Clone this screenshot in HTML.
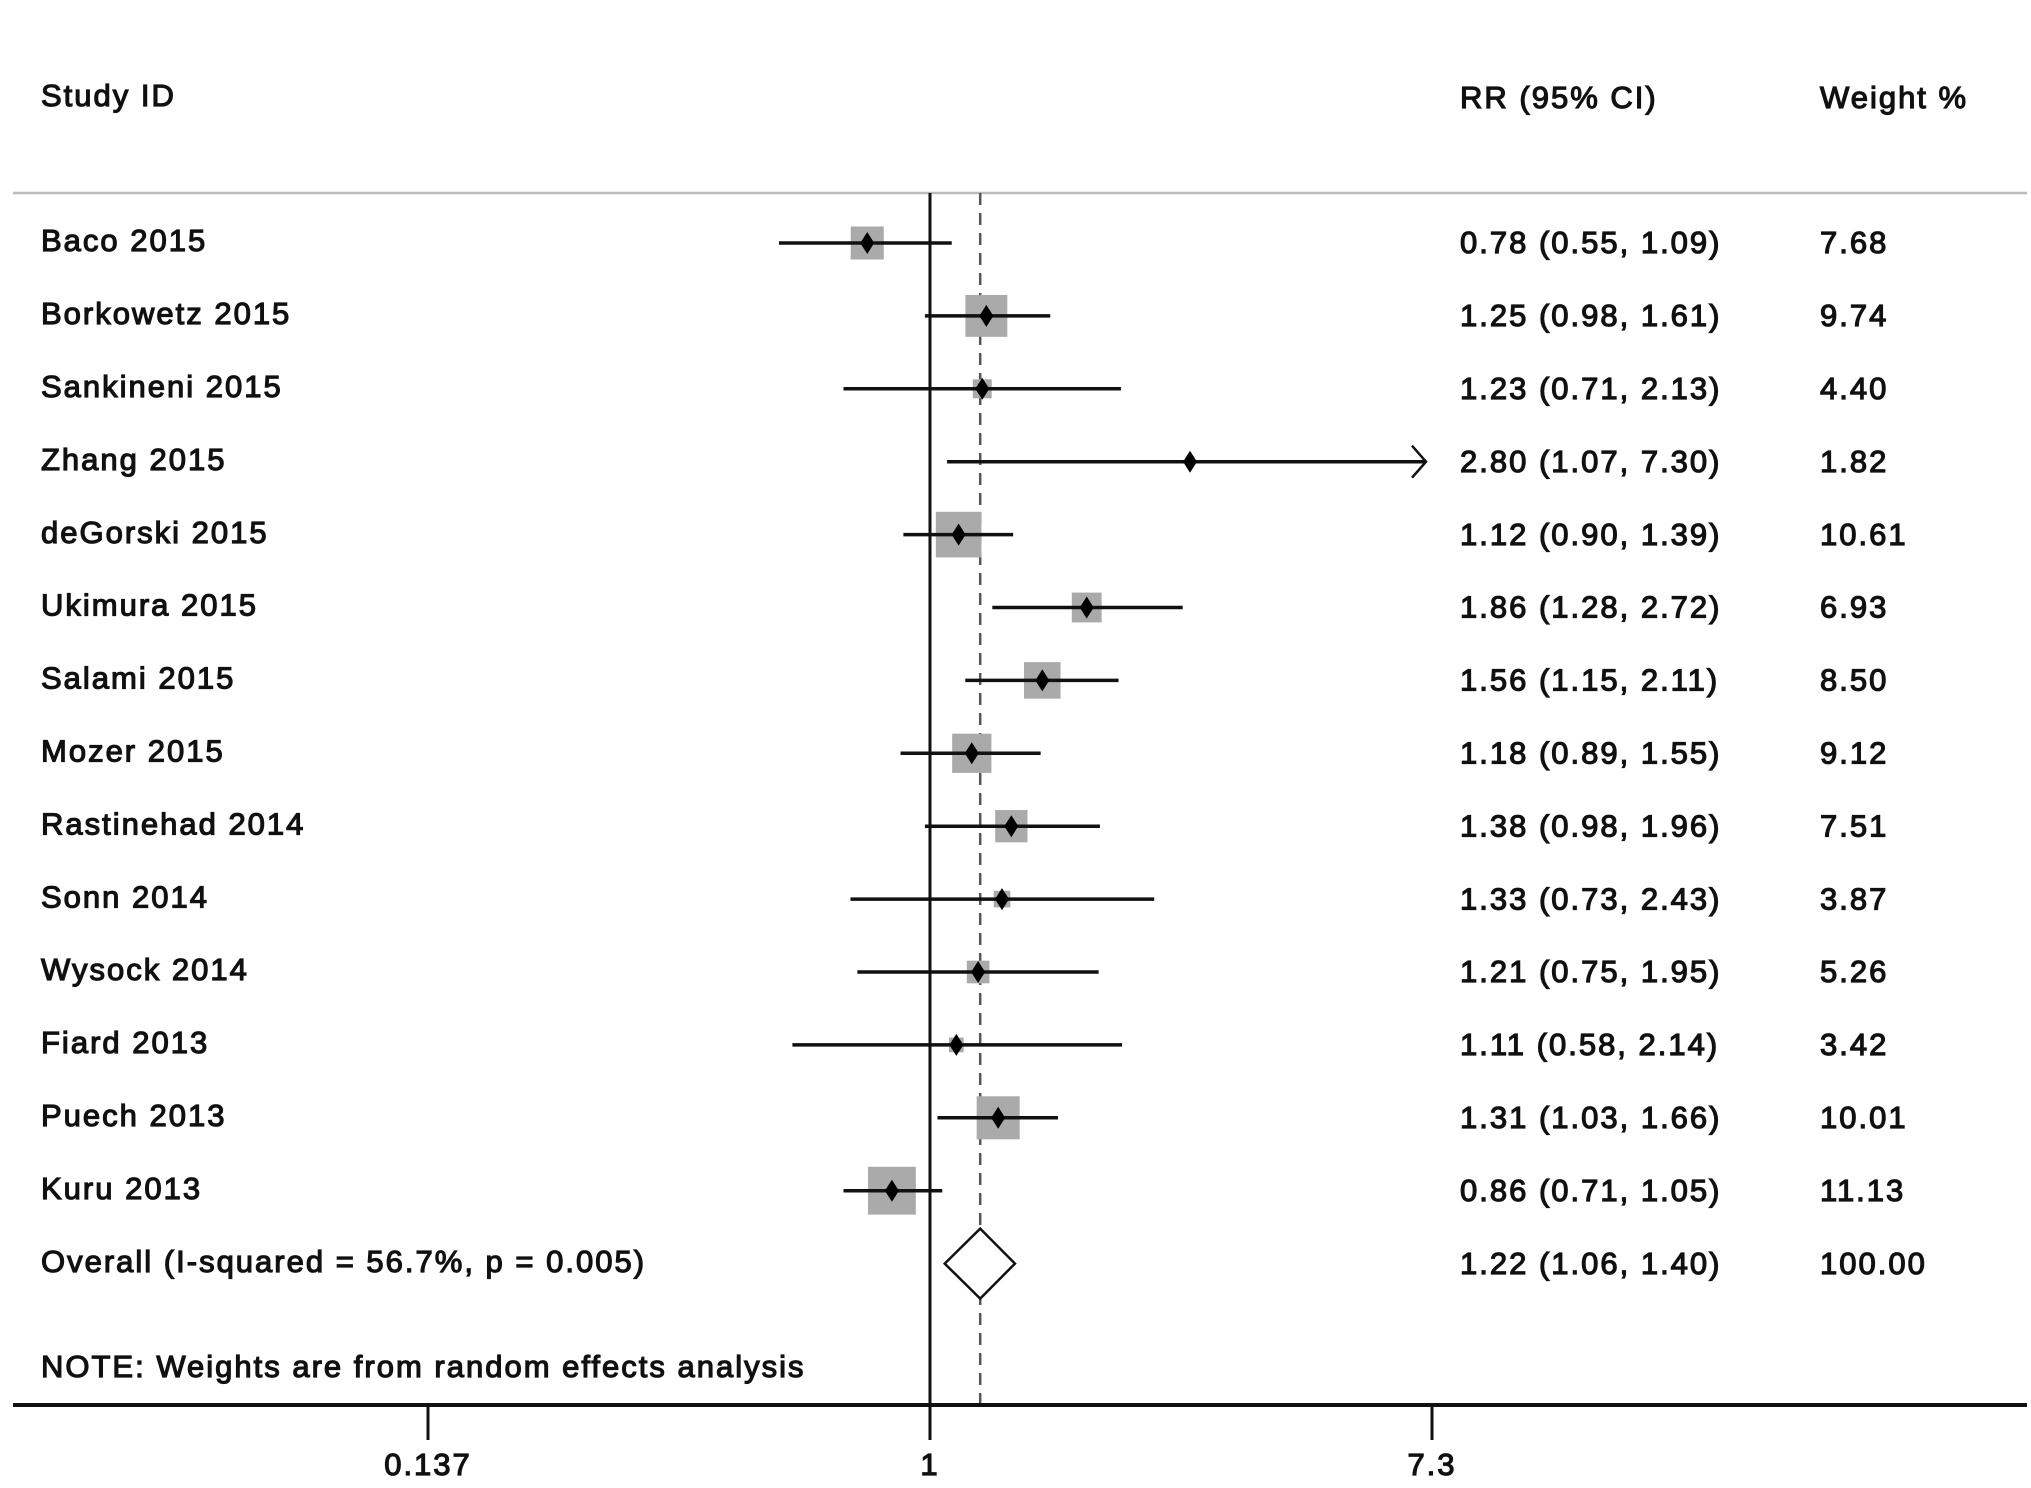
<!DOCTYPE html>
<html><head><meta charset="utf-8">
<style>
html,body{margin:0;padding:0;background:#fff;}
svg{display:block;}
text{font-family:"Liberation Sans",Arial,sans-serif;font-size:31px;fill:#111;letter-spacing:2px;stroke:#111;stroke-width:1.2px;}
</style></head>
<body>
<svg id="chart" width="2031" height="1488" viewBox="0 0 2031 1488" xmlns="http://www.w3.org/2000/svg">
</svg>
<script>
const studies=["Baco 2015","Borkowetz 2015","Sankineni 2015","Zhang 2015","deGorski 2015","Ukimura 2015","Salami 2015","Mozer 2015","Rastinehad 2014","Sonn 2014","Wysock 2014","Fiard 2013","Puech 2013","Kuru 2013"];
const rr=[0.78,1.25,1.23,2.80,1.12,1.86,1.56,1.18,1.38,1.33,1.21,1.11,1.31,0.86];
const lo=[0.55,0.98,0.71,1.07,0.90,1.28,1.15,0.89,0.98,0.73,0.75,0.58,1.03,0.71];
const hi=[1.09,1.61,2.13,7.30,1.39,2.72,2.11,1.55,1.96,2.43,1.95,2.14,1.66,1.05];
const weights=[7.68,9.74,4.40,1.82,10.61,6.93,8.50,9.12,7.51,3.87,5.26,3.42,10.01,11.13];
const overall=[1.22,1.06,1.40];
const overallLabel="Overall  (I-squared = 56.7%, p = 0.005)";
const ticks=[0.137,1,7.3];
const tickLabels=["0.137","1","7.3"];
const xMin=0.137, xMax=7.3;

const svg=document.getElementById('chart');
const NS="http://www.w3.org/2000/svg";
const X0=428, X1=1432;
const AXIS_Y=1405;
function xs(v){return X0+(Math.log(v)-Math.log(xMin))/(Math.log(xMax)-Math.log(xMin))*(X1-X0);}
function ys(i){return 243+i*72.9;}
function mk(tag,attrs,name,parent){const e=document.createElementNS(NS,tag);for(const k in attrs)e.setAttribute(k,attrs[k]);


(parent||svg).appendChild(e);return e;}
function txt(x,y,s,name,anchor){const t=mk('text',{x:x,y:y,'text-anchor':anchor||'start','dominant-baseline':'middle'},name);t.textContent=s;return t;}

txt(41,98,"Study  ID","study-id-header");
txt(1460,100,"RR (95% CI)","rr-header");
txt(1820,100,"Weight  %","weight-header");
mk('line',{x1:13,x2:2027,y1:193,y2:193,stroke:'#bbb','stroke-width':2.5},'header-divider');

mk('line',{x1:xs(1),x2:xs(1),y1:193,y2:AXIS_Y+35,stroke:'#111','stroke-width':3},'null-line');
mk('line',{x1:xs(overall[0]),x2:xs(overall[0]),y1:193,y2:AXIS_Y,stroke:'#555','stroke-width':2.5,'stroke-dasharray':'12 8'},'overall-effect-line');

studies.forEach((s,i)=>{
  const y=ys(i);
  txt(41,y,s,'study-label');
  const sz=4.3*weights[i];
  const cx=xs(rr[i]);
  mk('rect',{x:cx-sz/2,y:y-sz/2,width:sz,height:sz,fill:'#aaa'},'weight-square');
  const xe=Math.min(xs(hi[i]),X1-6);
  mk('line',{x1:xs(lo[i]),x2:xe,y1:y,y2:y,stroke:'#111','stroke-width':3.5},'ci-line');
  if(hi[i]>=xMax){
    mk('polyline',{points:`${xe-14},${y-16} ${xe},${y} ${xe-14},${y+16}`,fill:'none',stroke:'#111','stroke-width':2.5},'ci-arrow');
  }
  mk('polygon',{points:`${cx},${y-11} ${cx+7},${y} ${cx},${y+11} ${cx-7},${y}`,fill:'#000'},'point-estimate');
  txt(1460,y+2,rr[i].toFixed(2)+" ("+lo[i].toFixed(2)+", "+hi[i].toFixed(2)+")",'rr-value');
  txt(1820,y+2,weights[i].toFixed(2),'weight-value');
});

const oy=ys(14);
txt(41,oy,overallLabel,'overall-label');
const a=xs(overall[1]),b=xs(overall[2]),c=xs(overall[0]);
mk('polygon',{points:`${a},${oy} ${c},${oy-35} ${b},${oy} ${c},${oy+35}`,fill:'#fff',stroke:'#111','stroke-width':2.5},'overall-diamond');
txt(1460,oy+2,overall[0].toFixed(2)+" ("+overall[1].toFixed(2)+", "+overall[2].toFixed(2)+")",'overall-rr');
txt(1820,oy+2,"100.00",'overall-weight');

txt(41,1369,"NOTE: Weights are from random effects analysis",'note-text');

mk('line',{x1:13,x2:2027,y1:AXIS_Y,y2:AXIS_Y,stroke:'#111','stroke-width':4},'x-axis');
ticks.forEach((t,i)=>{
  mk('line',{x1:xs(t),x2:xs(t),y1:AXIS_Y,y2:AXIS_Y+35,stroke:'#111','stroke-width':3},'x-tick');
  txt(xs(t),1467,tickLabels[i],'x-tick-label','middle');
});
</script>
</body></html>
